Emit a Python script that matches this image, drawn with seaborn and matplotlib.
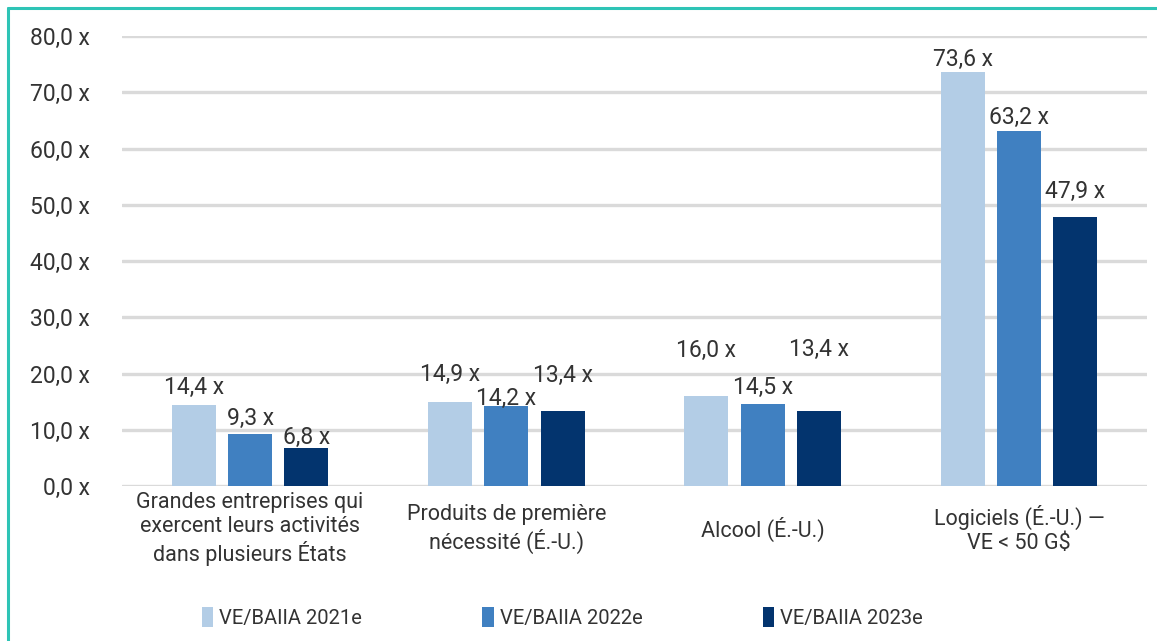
import pandas as pd
import matplotlib.pyplot as plt
import seaborn as sns
from matplotlib.lines import Line2D
from matplotlib.patches import Patch

# Données
categories = [
    "Grandes entreprises qui\nexercent leurs activités\ndans plusieurs États",
    "Produits de première\nnécessité (É.-U.)",
    "Alcool (É.-U.)",
    "Logiciels (É.-U.) —\nVE < 50 G$",
]
series = ["VE/BAIIA 2021e", "VE/BAIIA 2022e", "VE/BAIIA 2023e"]
ve_2021 = [14.4, 14.9, 16.0, 73.6]
ve_2022 = [9.3, 14.2, 14.5, 63.2]
ve_2023 = [6.8, 13.4, 13.4, 47.9]
yticks = [0, 10, 20, 30, 40, 50, 60, 70, 80]

couleurs = ["#b3cde6", "#4080c1", "#03346e"]
# décalage vertical (pixels) des étiquettes au-dessus des barres, comme dans l'original
decalages = [
    [18, 28, 46, 13],
    [15, 8, 17, 13],
    [10, 35, 61, 25],
]

df = pd.DataFrame({
    "Categorie": categories * 3,
    "Serie": [s for s in series for _ in categories],
    "Valeur": ve_2021 + ve_2022 + ve_2023,
})

sns.set_theme(style="white")
plt.rcParams["font.family"] = ["Roboto", "DejaVu Sans"]

fig = plt.figure(figsize=(11.57, 6.41), dpi=100)
ax = fig.add_axes([0.1054, 0.2418, 0.886, 0.702])

sns.barplot(data=df, x="Categorie", y="Valeur", hue="Serie", palette=couleurs,
            width=0.66, gap=0.22, saturation=1, linewidth=0, legend=False, ax=ax)

ax.set_ylim(0, 80)
ax.set_xlim(-0.5, 3.5)
ax.set_yticks(yticks)
ax.set_yticklabels([f"{v:.1f}".replace(".", ",") + " x" for v in yticks],
                   fontsize=16.5, color="#333333")
ax.yaxis.grid(True, color="#dadada", linewidth=2.4)
ax.set_axisbelow(True)
for s in ax.spines.values():
    s.set_visible(False)
ax.set_xlabel("")
ax.set_ylabel("")
ax.tick_params(axis="y", length=0, pad=23)
ax.tick_params(axis="x", length=0, pad=31)
for lab in ax.get_xticklabels():
    lab.set_fontsize(15.5)
    lab.set_color("#333333")
    lab.set_va("center")
    lab.set_linespacing(1.2)

# Étiquettes de valeurs
for i, cont in enumerate(ax.containers):
    for j, barre in enumerate(cont):
        h = barre.get_height()
        ax.annotate(f"{h:.1f}".replace(".", ",") + " x",
                    (barre.get_x() + barre.get_width() / 2, h),
                    xytext=(0, decalages[i][j]), textcoords="offset pixels",
                    ha="center", va="center", fontsize=16.5, color="#333333")

# Légende
poignees = [Patch(facecolor=c, edgecolor="none") for c in couleurs]
fig.legend(poignees, series, loc="center", bbox_to_anchor=(0.486, 0.037), ncol=3,
           frameon=False, fontsize=14.5, handlelength=0.55, handleheight=1.2,
           handletextpad=0.3, columnspacing=6.0, labelcolor="#333333")

# Bordure turquoise
fig.add_artist(Line2D([0.0065, 0.0065], [0, 0.987], color="#2ec4b6", linewidth=2.2,
                      transform=fig.transFigure))
fig.add_artist(Line2D([0.0065, 1], [0.987, 0.987], color="#2ec4b6", linewidth=2.2,
                      transform=fig.transFigure))

fig.savefig("out.png", dpi=100)
